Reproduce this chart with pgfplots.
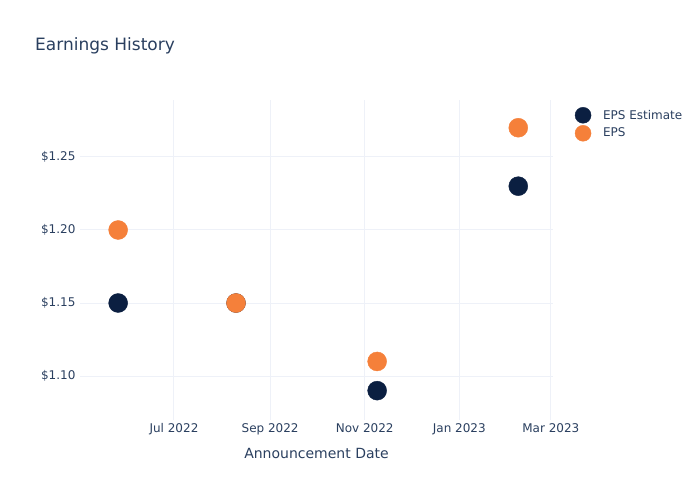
\documentclass[border=0pt]{standalone}
\usepackage{pgfplots}
\pgfplotsset{compat=1.18}
\usepackage{fontspec}
\setmainfont{DejaVu Sans}
\definecolor{navy}{HTML}{0B1F41}
\definecolor{eorange}{HTML}{F5803A}
\definecolor{gridc}{HTML}{EEF1F8}
\definecolor{txt}{HTML}{2A3F5F}
\begin{document}
\begin{tikzpicture}
\useasboundingbox (0pt,0pt) rectangle (700pt,500pt);
\node[anchor=base west, text=txt, font=\fontsize{17}{20}\selectfont, inner sep=0] at (35pt,449pt) {Earnings History};
\begin{axis}[
  at={(80pt,80pt)}, anchor=south west,
  scale only axis, width=473pt, height=320pt,
  xmin=-60.6, xmax=244.4, ymin=1.0699, ymax=1.289,
  axis line style={draw=none},
  tick style={draw=none},
  grid=major, major grid style={gridc, line width=1pt},
  xtick={0,62,123,184,243},
  xticklabels={Jul 2022,Sep 2022,Nov 2022,Jan 2023,Mar 2023},
  ytick={1.10,1.15,1.20,1.25},
  yticklabels={\$1.10,\$1.15,\$1.20,\$1.25},
  ticklabel style={text=txt, font=\fontsize{12}{14}\selectfont},
  xticklabel style={yshift=0pt},
  yticklabel style={xshift=-1pt},
  xlabel={Announcement Date},
  xlabel style={text=txt, font=\fontsize{14}{16}\selectfont, yshift=-6pt},
  legend style={draw=none, fill=none, at={(1.042,0.981)}, anchor=north west,
    font=\fontsize{12}{14}\selectfont, text=txt, row sep=0pt, inner sep=0pt},
  legend cell align=left,
  legend image code/.code={\path[draw=none,fill=none] (0pt,-9pt) rectangle (28pt,9pt); \fill[#1] (10pt,0pt) circle (8pt);},
]
\addplot[only marks, mark=*, mark size=9.5pt, color=navy] coordinates {
  (-36,1.15) (40,1.15) (131,1.09) (222,1.23)};
\addlegendentry{EPS Estimate}
\addplot[only marks, mark=*, mark size=9.5pt, color=eorange] coordinates {
  (-36,1.20) (40,1.15) (131,1.11) (222,1.27)};
\addlegendentry{EPS}
\end{axis}
\end{tikzpicture}
\end{document}
